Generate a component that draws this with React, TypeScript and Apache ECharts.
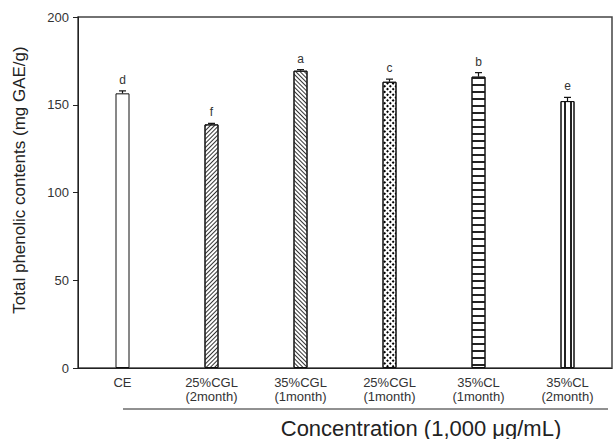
import React, { useEffect, useRef } from "react";
import * as echarts from "echarts";

const categories = [
  "CE",
  "25%CGL\n(2month)",
  "35%CGL\n(1month)",
  "25%CGL\n(1month)",
  "35%CL\n(1month)",
  "35%CL\n(2month)",
];
const values = [156.5, 138.8, 169.4, 163.1, 166.0, 152.1];
const errors = [1.4, 0.6, 0.6, 1.5, 2.3, 2.1];
const letters = ["d", "f", "a", "c", "b", "e"];
const yTicks = [0, 50, 100, 150, 200];

const FONT = "'Liberation Sans', Arial, sans-serif";

const decals: any[] = [
  null,
  { symbol: "rect", color: "#333", backgroundColor: "#fff", dashArrayX: [1, 0], dashArrayY: [1, 1.9], rotation: -Math.PI / 4 },
  { symbol: "rect", color: "#333", backgroundColor: "#fff", dashArrayX: [1, 0], dashArrayY: [1, 1.9], rotation: Math.PI / 4 },
  { symbol: "rect", color: "#000", backgroundColor: "#777", dashArrayX: [1.2, 1.2], dashArrayY: [1.2, 1.2], rotation: Math.PI / 4 },
  { symbol: "rect", color: "#222", backgroundColor: "#fff", dashArrayX: [1, 0], dashArrayY: [1.2, 5], rotation: 0 },
  { symbol: "rect", color: "#222", backgroundColor: "#fff", dashArrayX: [1.5, 3.2], dashArrayY: [1, 0], rotation: 0 },
];

export default function App() {
  const ref = useRef<HTMLDivElement>(null);
  useEffect(() => {
    if (!ref.current) return;
    const chart = echarts.init(ref.current, null, { renderer: "svg" });
    const barData = values.map((v, i) => ({
      value: v,
      itemStyle: {
        color: "#fff",
        borderColor: "#111",
        borderWidth: 1,
        decal: decals[i] || undefined,
      },
    }));
    chart.setOption({
      animation: false,
      grid: {
        left: 78,
        right: 3,
        top: 17,
        bottom: 71,
        show: true,
        borderColor: "#444",
        borderWidth: 1.5,
      },
      xAxis: {
        type: "category",
        data: categories,
        axisLine: { lineStyle: { color: "#222", width: 1 } },
        axisTick: { show: false },
        axisLabel: {
          fontFamily: FONT,
          fontSize: 13,
          color: "#333",
          lineHeight: 14,
          margin: 7,
        },
      },
      yAxis: {
        type: "value",
        min: 0,
        max: 200,
        interval: 50,
        axisLine: { show: true, lineStyle: { color: "#222", width: 1 } },
        axisTick: { show: true, length: 5, lineStyle: { color: "#222" } },
        splitLine: { show: false },
        axisLabel: {
          fontFamily: FONT,
          fontSize: 13,
          color: "#333",
          margin: 9,
          formatter: (v: number) => (yTicks.includes(v) ? String(v) : ""),
        },
      },
      series: [
        {
          type: "bar",
          data: barData,
          barWidth: 14,
        },
        {
          type: "custom",
          data: values.map((v, i) => [i, v, errors[i]]),
          z: 5,
          itemStyle: { color: "#222" },
          renderItem: (params: any, api: any) => {
            const i = api.value(0);
            const v = api.value(1);
            const e = api.value(2);
            const base = api.coord([i, v]);
            const top = api.coord([i, v + e]);
            const cap = 3.5;
            return {
              type: "group",
              children: [
                {
                  type: "line",
                  shape: { x1: base[0], y1: base[1], x2: top[0], y2: top[1] },
                  style: { stroke: "#111", lineWidth: 1.2 },
                },
                {
                  type: "line",
                  shape: { x1: top[0] - cap, y1: top[1], x2: top[0] + cap, y2: top[1] },
                  style: { stroke: "#111", lineWidth: 1.2 },
                },
                {
                  type: "text",
                  style: {
                    text: letters[i],
                    x: top[0],
                    y: top[1] - 5,
                    align: "center",
                    verticalAlign: "bottom",
                    fontFamily: FONT,
                    fontSize: 12,
                    fill: "#333",
                  },
                },
              ],
            };
          },
        },
      ],
      graphic: [
        {
          type: "text",
          x: 19,
          y: 180,
          rotation: Math.PI / 2,
          style: {
            text: "Total phenolic contents (mg GAE/g)",
            align: "center",
            verticalAlign: "middle",
            fontFamily: FONT,
            fontSize: 17,
            fill: "#222",
          },
        },
        {
          type: "line",
          shape: { x1: 123, y1: 409, x2: 608, y2: 409 },
          style: { stroke: "#222", lineWidth: 1 },
        },
        {
          type: "text",
          x: 421,
          y: 428,
          style: {
            text: "Concentration (1,000 μg/mL)",
            align: "center",
            verticalAlign: "middle",
            fontFamily: FONT,
            fontSize: 22,
            fill: "#222",
          },
        },
      ],
    });
    return () => chart.dispose();
  }, []);
  return (
    <div
      ref={ref}
      style={{ position: "fixed", left: 0, top: 0, width: 615, height: 439, background: "#fff" }}
    />
  );
}
